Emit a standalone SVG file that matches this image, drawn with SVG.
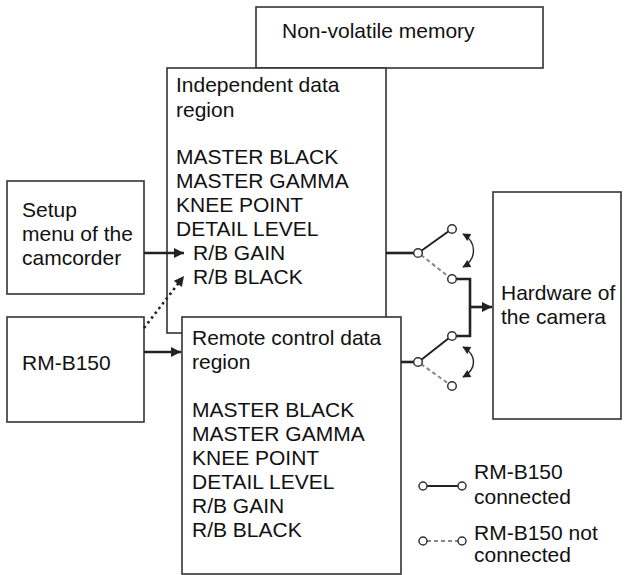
<svg xmlns="http://www.w3.org/2000/svg" width="625" height="575" viewBox="0 0 625 575">
<defs>
<style>
text{font-family:"Liberation Sans",Arial,sans-serif;font-size:21px;fill:#111}
.box{fill:#fff;stroke:#333;stroke-width:1.6}
.thick{fill:none;stroke:#222;stroke-width:2.6}
.sw{fill:none;stroke:#222;stroke-width:2}
.dash{fill:none;stroke:#888;stroke-width:2;stroke-dasharray:4 3}
.dot{fill:none;stroke:#222;stroke-width:2.6;stroke-dasharray:2.5 3.5}
.node{fill:#fff;stroke:#333;stroke-width:1.5}
.curve{fill:none;stroke:#222;stroke-width:1.4}
</style>
<marker id="ah" viewBox="0 0 10 10" refX="10" refY="5" markerWidth="11" markerHeight="10" markerUnits="userSpaceOnUse" orient="auto-start-reverse">
<path d="M0,0 L10,5 L0,10 z" fill="#222"/>
</marker>
<marker id="ahs" viewBox="0 0 10 10" refX="9" refY="5" markerWidth="9" markerHeight="8" markerUnits="userSpaceOnUse" orient="auto-start-reverse">
<path d="M0,0 L10,5 L0,10 z" fill="#222"/>
</marker>
</defs>

<g id="nonvolatile">
<rect class="box" x="256" y="7" width="287" height="61"/>
<text x="282" y="38">Non-volatile memory</text>
</g>

<g id="independent">
<rect class="box" x="167" y="68" width="219" height="265"/>
<text x="176" y="92">Independent data</text>
<text x="176" y="117">region</text>
<text x="176" y="164">MASTER BLACK</text>
<text x="176" y="188">MASTER GAMMA</text>
<text x="176" y="212">KNEE POINT</text>
<text x="176" y="236">DETAIL LEVEL</text>
<text x="193" y="260">R/B GAIN</text>
<text x="193" y="284">R/B BLACK</text>
</g>

<g id="remote">
<rect class="box" x="182" y="317" width="219" height="257"/>
<text x="192" y="345">Remote control data</text>
<text x="192" y="369">region</text>
<text x="192" y="417">MASTER BLACK</text>
<text x="192" y="441">MASTER GAMMA</text>
<text x="192" y="465">KNEE POINT</text>
<text x="192" y="489">DETAIL LEVEL</text>
<text x="192" y="513">R/B GAIN</text>
<text x="192" y="537">R/B BLACK</text>
</g>

<g id="setup">
<rect class="box" x="7" y="181" width="137" height="113"/>
<text x="22" y="217">Setup</text>
<text x="22" y="241">menu of the</text>
<text x="22" y="265">camcorder</text>
</g>

<g id="rmb150">
<rect class="box" x="7" y="317" width="137" height="105"/>
<text x="22" y="370">RM-B150</text>
</g>

<g id="hardware">
<rect class="box" x="493" y="192" width="128" height="227"/>
<text x="501" y="300">Hardware of</text>
<text x="501" y="324">the camera</text>
</g>

<g id="connectors">
<line class="thick" x1="144" y1="253" x2="184" y2="253" marker-end="url(#ah)"/>
<line class="thick" x1="144" y1="352" x2="181" y2="352" marker-end="url(#ah)"/>
<line class="dot" x1="144" y1="328" x2="184" y2="276" marker-end="url(#ah)"/>

<line class="thick" x1="386" y1="253" x2="414" y2="253"/>
<line class="sw" x1="421" y1="251" x2="449" y2="231"/>
<line class="dash" x1="421" y1="255" x2="449" y2="277"/>
<line class="thick" x1="401" y1="362" x2="414" y2="362"/>
<line class="sw" x1="421" y1="360" x2="449" y2="338"/>
<line class="dash" x1="421" y1="364" x2="449" y2="384"/>

<path class="thick" d="M456,279 H470 V336 H456"/>
<line class="thick" x1="470" y1="307" x2="492" y2="307" marker-end="url(#ah)"/>

<path class="curve" d="M463,234 C477,242 477,259 463,267" marker-start="url(#ahs)" marker-end="url(#ahs)"/>
<path class="curve" d="M463,347 C477,355 477,369 463,377" marker-start="url(#ahs)" marker-end="url(#ahs)"/>

<circle class="node" cx="418" cy="253" r="4.3"/>
<circle class="node" cx="452" cy="229" r="4.3"/>
<circle class="node" cx="452" cy="279" r="4.3"/>
<circle class="node" cx="418" cy="362" r="4.3"/>
<circle class="node" cx="452" cy="336" r="4.3"/>
<circle class="node" cx="452" cy="386" r="4.3"/>
</g>

<g id="legend">
<line class="sw" x1="427" y1="486" x2="458" y2="486"/>
<circle class="node" cx="423" cy="486" r="4"/>
<circle class="node" cx="462" cy="486" r="4"/>
<text x="474" y="479">RM-B150</text>
<text x="474" y="504">connected</text>
<line class="dash" x1="427" y1="541" x2="458" y2="541"/>
<circle class="node" cx="423" cy="541" r="4"/>
<circle class="node" cx="462" cy="541" r="4"/>
<text x="474" y="540">RM-B150 not</text>
<text x="474" y="562">connected</text>
</g>
</svg>
